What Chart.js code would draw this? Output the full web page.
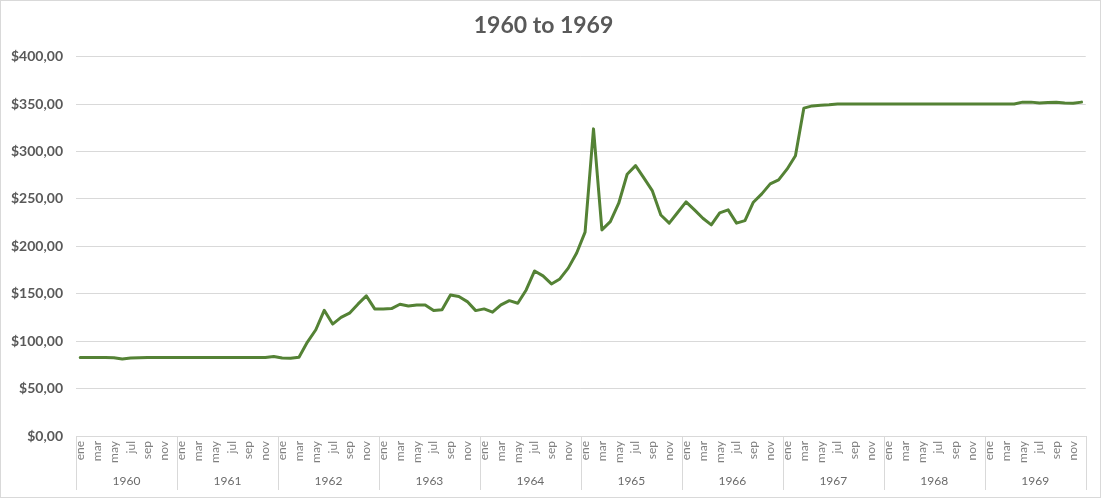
<!DOCTYPE html>
<html>
<head>
<meta charset="utf-8">
<script src="https://cdn.jsdelivr.net/npm/chart.js@4.4.1/dist/chart.umd.min.js"></script>
<style>
  html, body { margin: 0; padding: 0; background: #ffffff; }
  canvas { display: block; }
</style>
</head>
<body>
<canvas id="c" width="1101" height="498"></canvas>
<script>
const years = ['1960', '1961', '1962', '1963', '1964', '1965', '1966', '1967', '1968', '1969'];
const months = ['ene', 'feb', 'mar', 'abr', 'may', 'jun', 'jul', 'ago', 'sep', 'oct', 'nov', 'dic'];
const shownMonths = ['ene', 'mar', 'may', 'jul', 'sep', 'nov'];
const yTicks = [0, 50, 100, 150, 200, 250, 300, 350, 400];

const v1960 = [82.7, 82.7, 82.7, 82.7, 82.6, 81.2, 82.3, 82.6, 82.7, 82.7, 82.7, 82.7];
const v1961 = [82.7, 82.7, 82.7, 82.7, 82.7, 82.7, 82.7, 82.7, 82.7, 82.7, 82.7, 83.8];
const v1962 = [82.2, 82.0, 83.0, 99.0, 112.0, 132.5, 118.0, 125.0, 129.5, 139.0, 147.7, 134.0];
const v1963 = [133.8, 134.3, 138.9, 137.1, 138.2, 138.2, 132.2, 133.2, 148.7, 147.0, 141.7, 132.2];
const v1964 = [134.0, 130.5, 138.2, 142.7, 140.0, 154.0, 174.0, 168.8, 160.3, 165.6, 177.0, 193.0];
const v1965 = [215.0, 323.8, 217.3, 226.0, 245.4, 276.0, 285.0, 271.8, 258.4, 233.0, 224.4, 235.6];
const v1966 = [246.8, 238.4, 229.6, 222.6, 235.3, 238.4, 224.4, 227.1, 246.5, 255.3, 265.8, 270.0];
const v1967 = [281.3, 295.4, 345.7, 348.0, 348.8, 349.2, 350.0, 350.0, 350.0, 350.0, 350.0, 350.0];
const v1968 = [350.0, 350.0, 350.0, 350.0, 350.0, 350.0, 350.0, 350.0, 350.0, 350.0, 350.0, 350.0];
const v1969 = [350.0, 350.0, 350.0, 350.0, 352.0, 352.0, 351.0, 351.5, 351.8, 351.0, 350.8, 352.0];

const yearValues = [v1960, v1961, v1962, v1963, v1964, v1965, v1966, v1967, v1968, v1969];
const labels = [];
const values = [];
years.forEach((y, yi) => {
  months.forEach((m, mi) => {
    labels.push(m);
    values.push(yearValues[yi][mi]);
  });
});

const FONT = 'Lato, "Open Sans", "DejaVu Sans", sans-serif';

const frame = {
  id: 'frame',
  beforeDraw(chart) {
    const ctx = chart.ctx;
    ctx.save();
    ctx.fillStyle = '#ffffff';
    ctx.fillRect(0, 0, chart.width, chart.height);
    ctx.restore();
  },
  afterDraw(chart) {
    const ctx = chart.ctx;
    const xs = chart.scales.x;
    const top = chart.chartArea.bottom;
    const bottom = top + 54;
    const n = years.length;
    const w = (xs.right - xs.left) / n;
    ctx.save();
    ctx.strokeStyle = '#d9d9d9';
    ctx.lineWidth = 1;
    for (let k = 0; k <= n; k++) {
      const x = Math.round(xs.left + k * w) + 0.5;
      ctx.beginPath();
      ctx.moveTo(x, top);
      ctx.lineTo(x, bottom);
      ctx.stroke();
    }
    ctx.beginPath();
    ctx.moveTo(xs.left, top + 0.5);
    ctx.lineTo(xs.right, top + 0.5);
    ctx.stroke();
    ctx.fillStyle = '#6b6b6b';
    ctx.font = '12px ' + FONT;
    ctx.textAlign = 'center';
    ctx.textBaseline = 'middle';
    for (let k = 0; k < n; k++) {
      ctx.fillText(years[k], xs.left + (k + 0.5) * w, top + 45);
    }
    ctx.strokeStyle = '#d9d9d9';
    ctx.strokeRect(0.5, 0.5, chart.width - 1, chart.height - 1);
    ctx.restore();
  }
};

new Chart(document.getElementById('c'), {
  type: 'line',
  data: {
    labels: labels,
    datasets: [{
      data: values,
      borderColor: '#548235',
      backgroundColor: '#548235',
      borderWidth: 3,
      pointRadius: 0,
      tension: 0,
      borderJoinStyle: 'round',
      borderCapStyle: 'round',
      fill: false
    }]
  },
  options: {
    responsive: false,
    animation: false,
    layout: { padding: { left: 0, right: 14, top: 0, bottom: 8 } },
    plugins: {
      legend: { display: false },
      tooltip: { enabled: false },
      title: {
        display: true,
        text: '1960 to 1969',
        color: '#595959',
        font: { family: FONT, size: 23, weight: 'bold', lineHeight: 1.2 },
        padding: { top: 12, bottom: 17 }
      }
    },
    scales: {
      x: {
        type: 'category',
        offset: true,
        afterFit: s => { s.height = 54; },
        grid: { display: false, drawTicks: false },
        border: { display: false },
        ticks: {
          autoSkip: false,
          minRotation: 90,
          maxRotation: 90,
          padding: 5,
          color: '#7f7f7f',
          font: { family: FONT, size: 12 },
          callback: function (val, idx) {
            const m = labels[idx];
            return shownMonths.includes(m) ? m : '';
          }
        }
      },
      y: {
        min: yTicks[0],
        max: yTicks[yTicks.length - 1],
        afterFit: s => { s.width = 76; },
        afterBuildTicks: s => { s.ticks = yTicks.map(v => ({ value: v })); },
        grid: { color: '#d9d9d9', lineWidth: 1, drawTicks: false },
        border: { display: false },
        ticks: {
          padding: 13,
          color: '#595959',
          font: { family: FONT, size: 14, weight: 'bold' },
          callback: v => '$' + Number(v).toFixed(2).replace('.', ',')
        }
      }
    }
  },
  plugins: [frame]
});
</script>
</body>
</html>
